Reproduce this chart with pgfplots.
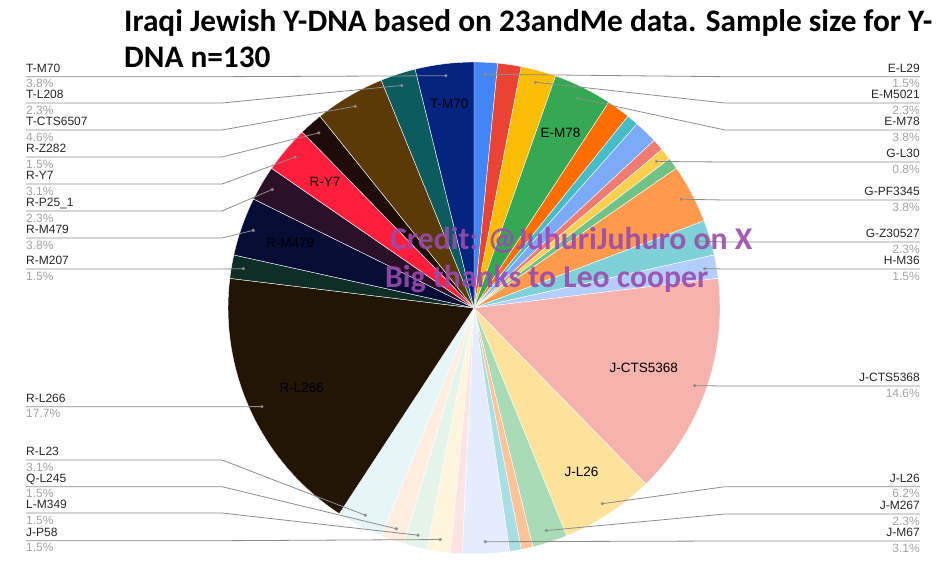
\documentclass[border=0pt]{standalone}
\usepackage{pgfplots}
\pgfplotsset{compat=1.18}
\usepackage{fontspec}
\setmainfont{Liberation Sans}
\newfontfamily\calfont{Carlito}
\definecolor{c01}{HTML}{4285F4}
\definecolor{c02}{HTML}{EA4335}
\definecolor{c03}{HTML}{FBBC04}
\definecolor{c04}{HTML}{34A853}
\definecolor{c05}{HTML}{FF6D01}
\definecolor{c06}{HTML}{46BDC6}
\definecolor{c07}{HTML}{7BAAF7}
\definecolor{c08}{HTML}{F07B72}
\definecolor{c09}{HTML}{FCD04F}
\definecolor{c10}{HTML}{71C287}
\definecolor{c11}{HTML}{FF994D}
\definecolor{c12}{HTML}{7ED1D7}
\definecolor{c13}{HTML}{B3CEFB}
\definecolor{c14}{HTML}{F6B2AC}
\definecolor{c15}{HTML}{FCE29A}
\definecolor{c16}{HTML}{A9DCB6}
\definecolor{c17}{HTML}{FFC39A}
\definecolor{c18}{HTML}{A7DFE4}
\definecolor{c19}{HTML}{E4ECFD}
\definecolor{c20}{HTML}{FCE4E4}
\definecolor{c21}{HTML}{FEF5DC}
\definecolor{c22}{HTML}{E5F4E9}
\definecolor{c23}{HTML}{FFEDE0}
\definecolor{c24}{HTML}{E5F5F8}
\definecolor{c25}{HTML}{231505}
\definecolor{c26}{HTML}{0E2E27}
\definecolor{c27}{HTML}{060D35}
\definecolor{c28}{HTML}{2A1129}
\definecolor{c29}{HTML}{FF1F3D}
\definecolor{c30}{HTML}{1E0C08}
\definecolor{c31}{HTML}{5B3A08}
\definecolor{c32}{HTML}{0C5B5E}
\definecolor{c33}{HTML}{05247F}
\definecolor{wm}{HTML}{9A4AAF}
\definecolor{pctgray}{HTML}{A3A3A3}
\definecolor{leadgray}{HTML}{8C8C8C}

\def\cum{0}
\def\tot{130}
% #1 count (samples out of 130), #2 colour, #3 key
\newcommand{\slice}[3]{%
  \pgfmathsetmacro\sa{\cum/\tot*360}%
  \pgfmathsetmacro\sb{(\cum+#1)/\tot*360}%
  \pgfmathsetmacro\sm{(\cum+#1/2)/\tot*360}%
  \pgfmathsetmacro\newcum{\cum+#1}%
  \xdef\cum{\newcum}%
  \expandafter\xdef\csname mid#3\endcsname{\sm}%
  \edef\tmp{\noexpand\addplot[fill=#2, draw=white, line width=0.4bp, domain=\sa:\sb, samples=40, variable=\noexpand\t]
    ({474+246*sin(\noexpand\t)},{308-246*cos(\noexpand\t)}) -- (axis cs:474,308) -- cycle;}%
  \tmp}
% inner label: #1 key, #2 radius, #3 text
\newcommand{\inner}[3]{%
  \pgfmathsetmacro\ix{474+#2*sin(\csname mid#1\endcsname)}%
  \pgfmathsetmacro\iy{308-#2*cos(\csname mid#1\endcsname)}%
  \edef\tmp{\noexpand\node[font=\noexpand\fontsize{13.5bp}{15bp}\noexpand\selectfont, text=black, inner sep=0pt] at (axis cs:\ix,\iy) {\unexpanded{#3}};}%
  \tmp}
% leaders: #1 key, #2 line y, #3 name, #4 percentage
\newcommand{\leadR}[4]{%
  \pgfmathsetmacro\dx{474+234*sin(\csname mid#1\endcsname)}%
  \pgfmathsetmacro\dy{308-234*cos(\csname mid#1\endcsname)}%
  \pgfmathsetmacro\ny{#2-4.4}\pgfmathsetmacro\py{#2+11.2}%
  \edef\tmp{\noexpand\addplot[leadgray, line width=0.8bp] coordinates {(920,#2) (725,#2) (\dx,\dy)};
    \noexpand\addplot[only marks, mark=*, mark size=1.4bp, leadgray] coordinates {(\dx,\dy)};
    \noexpand\node[anchor=base east, inner sep=0pt, font=\noexpand\fontsize{12bp}{14bp}\noexpand\selectfont, text=black!85] at (axis cs:920,\ny) {\unexpanded{#3}};
    \noexpand\node[anchor=base east, inner sep=0pt, font=\noexpand\fontsize{12bp}{14bp}\noexpand\selectfont, text=pctgray] at (axis cs:920,\py) {\unexpanded{#4}};}%
  \tmp}
\newcommand{\leadL}[4]{%
  \pgfmathsetmacro\dx{474+234*sin(\csname mid#1\endcsname)}%
  \pgfmathsetmacro\dy{308-234*cos(\csname mid#1\endcsname)}%
  \pgfmathsetmacro\ny{#2-4.4}\pgfmathsetmacro\py{#2+11.2}%
  \edef\tmp{\noexpand\addplot[leadgray, line width=0.8bp] coordinates {(26,#2) (222,#2) (\dx,\dy)};
    \noexpand\addplot[only marks, mark=*, mark size=1.4bp, leadgray] coordinates {(\dx,\dy)};
    \noexpand\node[anchor=base west, inner sep=0pt, font=\noexpand\fontsize{12bp}{14bp}\noexpand\selectfont, text=black!85] at (axis cs:26,\ny) {\unexpanded{#3}};
    \noexpand\node[anchor=base west, inner sep=0pt, font=\noexpand\fontsize{12bp}{14bp}\noexpand\selectfont, text=pctgray] at (axis cs:26,\py) {\unexpanded{#4}};}%
  \tmp}

\begin{document}
\begin{tikzpicture}
\begin{axis}[width=946bp, height=579bp, scale only axis,
  xmin=0, xmax=946, ymin=0, ymax=579, y dir=reverse,
  hide axis, clip=false]
\addplot[draw=none, forget plot] coordinates {(0,0) (946,579)};
% slices, clockwise from 12 o'clock (counts of n=130)
\slice{2}{c01}{EL29}
\slice{2}{c02}{x02}
\slice{3}{c03}{EM5021}
\slice{5}{c04}{EM78}
\slice{2}{c05}{x05}
\slice{1}{c06}{x06}
\slice{2}{c07}{x07}
\slice{1}{c08}{x08}
\slice{1}{c09}{GL30}
\slice{1}{c10}{x10}
\slice{5}{c11}{GPF3345}
\slice{3}{c12}{GZ30527}
\slice{2}{c13}{HM36}
\slice{19}{c14}{JCTS5368}
\slice{8}{c15}{JL26}
\slice{3}{c16}{JM267}
\slice{1}{c17}{x17}
\slice{1}{c18}{x18}
\slice{4}{c19}{JM67}
\slice{1}{c20}{x20}
\slice{2}{c21}{JP58}
\slice{2}{c22}{LM349}
\slice{2}{c23}{QL245}
\slice{4}{c24}{RL23}
\slice{23}{c25}{RL266}
\slice{2}{c26}{RM207}
\slice{5}{c27}{RM479}
\slice{3}{c28}{RP251}
\slice{4}{c29}{RY7}
\slice{2}{c30}{RZ282}
\slice{6}{c31}{TCTS6507}
\slice{3}{c32}{TL208}
\slice{5}{c33}{TM70}
% inner labels
\inner{EM78}{195}{E-M78}
\inner{JCTS5368}{180}{J-CTS5368}
\inner{JL26}{196}{J-L26}
\inner{RL266}{190}{R-L266}
\inner{RM479}{195}{R-M479}
\inner{RY7}{195}{R-Y7}
\inner{TM70}{206}{T-M70}
% right labels
\leadR{EL29}{76.7}{E-L29}{1.5\%}
\leadR{EM5021}{103}{E-M5021}{2.3\%}
\leadR{EM78}{130}{E-M78}{3.8\%}
\leadR{GL30}{162}{G-L30}{0.8\%}
\leadR{GPF3345}{200}{G-PF3345}{3.8\%}
\leadR{GZ30527}{242}{G-Z30527}{2.3\%}
\leadR{HM36}{269}{H-M36}{1.5\%}
\leadR{JCTS5368}{386}{J-CTS5368}{14.6\%}
\leadR{JL26}{486.7}{J-L26}{6.2\%}
\leadR{JM267}{514}{J-M267}{2.3\%}
\leadR{JM67}{541}{J-M67}{3.1\%}
% left labels
\leadL{TM70}{76.7}{T-M70}{3.8\%}
\leadL{TL208}{103}{T-L208}{2.3\%}
\leadL{TCTS6507}{130}{T-CTS6507}{4.6\%}
\leadL{RZ282}{157}{R-Z282}{1.5\%}
\leadL{RY7}{184}{R-Y7}{3.1\%}
\leadL{RP251}{211}{R-P25\_1}{2.3\%}
\leadL{RM479}{238}{R-M479}{3.8\%}
\leadL{RM207}{269}{R-M207}{1.5\%}
\leadL{RL266}{406.7}{R-L266}{17.7\%}
\leadL{RL23}{460}{R-L23}{3.1\%}
\leadL{QL245}{486.7}{Q-L245}{1.5\%}
\leadL{LM349}{513}{L-M349}{1.5\%}
\leadL{JP58}{540.7}{J-P58}{1.5\%}
% title
\node[anchor=base west, inner sep=0pt, font=\calfont\bfseries\fontsize{31.3bp}{36bp}\selectfont] at (axis cs:124,32) {Iraqi Jewish Y-DNA based on 23andMe data. Sample size for Y-};
\node[anchor=base west, inner sep=0pt, font=\calfont\bfseries\fontsize{31.3bp}{36bp}\selectfont] at (axis cs:124,68) {DNA n=130};
% watermark
\node[anchor=base west, inner sep=0pt, text=wm, text opacity=0.9, font=\calfont\bfseries\fontsize{31.7bp}{36bp}\selectfont] at (axis cs:390,249) {Credit: @JuhuriJuhuro on X};
\node[anchor=base west, inner sep=0pt, text=wm, text opacity=0.9, font=\calfont\bfseries\fontsize{31.7bp}{36bp}\selectfont] at (axis cs:385,287) {Big thanks to Leo cooper};
\end{axis}
\end{tikzpicture}
\end{document}
